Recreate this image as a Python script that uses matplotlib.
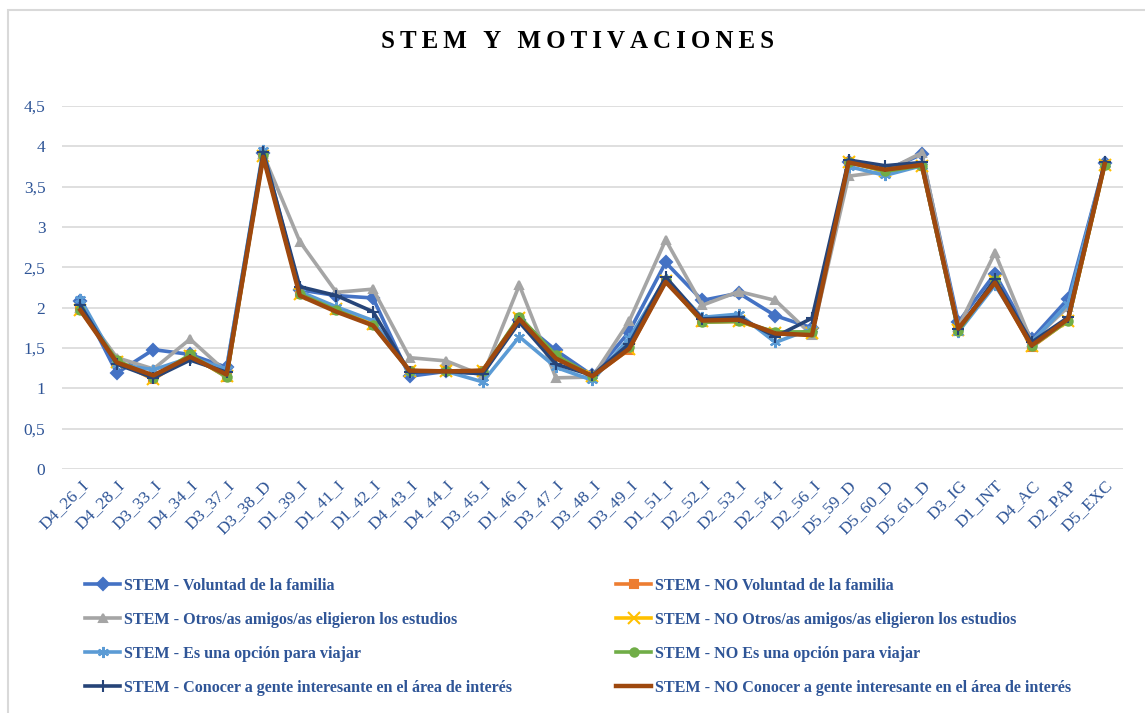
import matplotlib.pyplot as plt
from matplotlib.patches import Rectangle

categories = [
    "D4_26_I", "D4_28_I", "D3_33_I", "D4_34_I", "D3_37_I", "D3_38_D",
    "D1_39_I", "D1_41_I", "D1_42_I", "D4_43_I", "D4_44_I", "D3_45_I",
    "D1_46_I", "D3_47_I", "D3_48_I", "D3_49_I", "D1_51_I", "D2_52_I",
    "D2_53_I", "D2_54_I", "D2_56_I", "D5_59_D", "D5_60_D", "D5_61_D",
    "D3_IG", "D1_INT", "D4_AC", "D2_PAP", "D5_EXC",
]

stem_familia = [2.08, 1.19, 1.48, 1.42, 1.26, 3.92, 2.22, 2.15, 2.12, 1.15, 1.21, 1.18, 1.85, 1.47, 1.16,
                1.70, 2.56, 2.09, 2.18, 1.90, 1.75, 3.80, 3.70, 3.90, 1.82, 2.42, 1.61, 2.11, 3.79]
no_familia = [1.97, 1.34, 1.11, 1.41, 1.14, 3.88, 2.17, 1.97, 1.79, 1.22, 1.21, 1.22, 1.87, 1.40, 1.15,
              1.48, 2.33, 1.82, 1.83, 1.69, 1.68, 3.81, 3.69, 3.76, 1.71, 2.33, 1.51, 1.84, 3.77]
stem_amigos = [2.00, 1.38, 1.24, 1.61, 1.20, 3.90, 2.82, 2.19, 2.23, 1.38, 1.34, 1.16, 2.28, 1.13, 1.14,
               1.83, 2.84, 2.03, 2.20, 2.09, 1.66, 3.63, 3.69, 3.92, 1.76, 2.68, 1.58, 2.01, 3.79]
no_amigos = [1.97, 1.33, 1.12, 1.40, 1.15, 3.88, 2.17, 1.98, 1.80, 1.22, 1.21, 1.22, 1.87, 1.39, 1.15,
             1.49, 2.33, 1.83, 1.83, 1.69, 1.68, 3.80, 3.69, 3.76, 1.72, 2.33, 1.52, 1.84, 3.77]
stem_viajar = [2.11, 1.30, 1.23, 1.38, 1.24, 3.96, 2.20, 2.01, 1.84, 1.20, 1.21, 1.08, 1.64, 1.26, 1.10,
               1.62, 2.36, 1.88, 1.92, 1.57, 1.74, 3.75, 3.64, 3.76, 1.70, 2.28, 1.57, 2.05, 3.78]
no_viajar = [1.97, 1.35, 1.13, 1.42, 1.14, 3.89, 2.17, 1.97, 1.78, 1.22, 1.21, 1.22, 1.89, 1.41, 1.15,
             1.51, 2.34, 1.82, 1.83, 1.70, 1.70, 3.81, 3.69, 3.76, 1.71, 2.34, 1.52, 1.84, 3.77]
stem_gente = [2.03, 1.30, 1.13, 1.35, 1.20, 3.93, 2.26, 2.15, 1.95, 1.20, 1.21, 1.18, 1.82, 1.30, 1.16,
              1.55, 2.38, 1.86, 1.88, 1.64, 1.87, 3.83, 3.76, 3.80, 1.73, 2.35, 1.57, 1.88, 3.81]
no_gente = [1.97, 1.32, 1.16, 1.39, 1.17, 3.87, 2.15, 1.95, 1.78, 1.22, 1.21, 1.22, 1.86, 1.37, 1.15,
            1.49, 2.32, 1.84, 1.85, 1.68, 1.66, 3.80, 3.71, 3.77, 1.74, 2.31, 1.53, 1.86, 3.78]

# (label, values, colour, marker)
series = [
    ("STEM - Voluntad de la familia", stem_familia, "#4472C4", "D"),
    ("STEM - NO Voluntad de la familia", no_familia, "#ED7D31", "s"),
    ("STEM - Otros/as amigos/as eligieron los estudios", stem_amigos, "#A5A5A5", "^"),
    ("STEM - NO Otros/as amigos/as eligieron los estudios", no_amigos, "#FFC000", "x"),
    ("STEM - Es una opción para viajar", stem_viajar, "#5B9BD5", (6, 2, 0)),
    ("STEM - NO Es una opción para viajar", no_viajar, "#70AD47", "o"),
    ("STEM - Conocer a gente interesante en el área de interés", stem_gente, "#264478", "+"),
    ("STEM - NO Conocer a gente interesante en el área de interés", no_gente, "#9E480E", None),
]

SERIF = "Liberation Serif"
TEXT_BLUE = "#2F5597"
W, H = 1145, 713

fig = plt.figure(figsize=(W / 100, H / 100), dpi=100)
fig.patches.append(Rectangle((8 / W, -0.1), 1.2, 1 - 10 / H + 0.1, transform=fig.transFigure,
                             fill=False, edgecolor="#D9D9D9", linewidth=1.5))

ax = fig.add_axes([62 / W, (H - 469) / H, (1123 - 62) / W, (469 - 106) / H])
x = list(range(len(categories)))

handles = []
for i, (label, values, color, marker) in enumerate(series):
    ms = 8 if marker in ("x", "+", (6, 2, 0)) else 6
    lw = 3.2 if marker is None else 2.6
    line, = ax.plot(x, values, color=color, lw=lw, marker=marker, markersize=ms,
                    markerfacecolor=color, markeredgecolor=color, markeredgewidth=1.5,
                    zorder=3 + i, label=label, solid_joinstyle="round")
    handles.append(line)

ax.set_xlim(-0.5, len(categories) - 0.5)
ax.set_ylim(0, 4.5)
ax.set_yticks([0, 0.5, 1, 1.5, 2, 2.5, 3, 3.5, 4, 4.5])
ax.set_yticklabels(["0", "0,5", "1", "1,5", "2", "2,5", "3", "3,5", "4", "4,5"])
ax.set_xticks(x)
ax.set_xticklabels(categories, rotation=45, ha="right", rotation_mode="anchor")
ax.grid(axis="y", color="#D9D9D9", lw=1.2)
ax.set_axisbelow(True)
for spine in ax.spines.values():
    spine.set_visible(False)
ax.tick_params(length=0, labelsize=12.5, labelcolor=TEXT_BLUE)
ax.tick_params(axis="y", pad=12)
ax.tick_params(axis="x", pad=6)
for lbl in ax.get_xticklabels() + ax.get_yticklabels():
    lbl.set_fontfamily(SERIF)

# spread the title letters out with thin spaces
title = "\u2009".join("STEM Y MOTIVACIONES")
fig.text(0.504, 1 - 42 / H, title, ha="center", va="center",
         fontsize=18, fontweight="bold", family=SERIF, color="black")

# two legend columns, filled row by row
legend_kw = dict(frameon=False, prop={"family": SERIF, "weight": "bold", "size": 11.6},
                 labelcolor=TEXT_BLUE, handlelength=2.2, handletextpad=0.2,
                 labelspacing=1.12, borderaxespad=0, borderpad=0)
fig.legend(handles=handles[0::2], loc="upper left",
           bbox_to_anchor=(85 / W, 1 - 578 / H), **legend_kw)
fig.legend(handles=handles[1::2], loc="upper left",
           bbox_to_anchor=(616 / W, 1 - 578 / H), **legend_kw)

fig.savefig("out.png", dpi=100)
